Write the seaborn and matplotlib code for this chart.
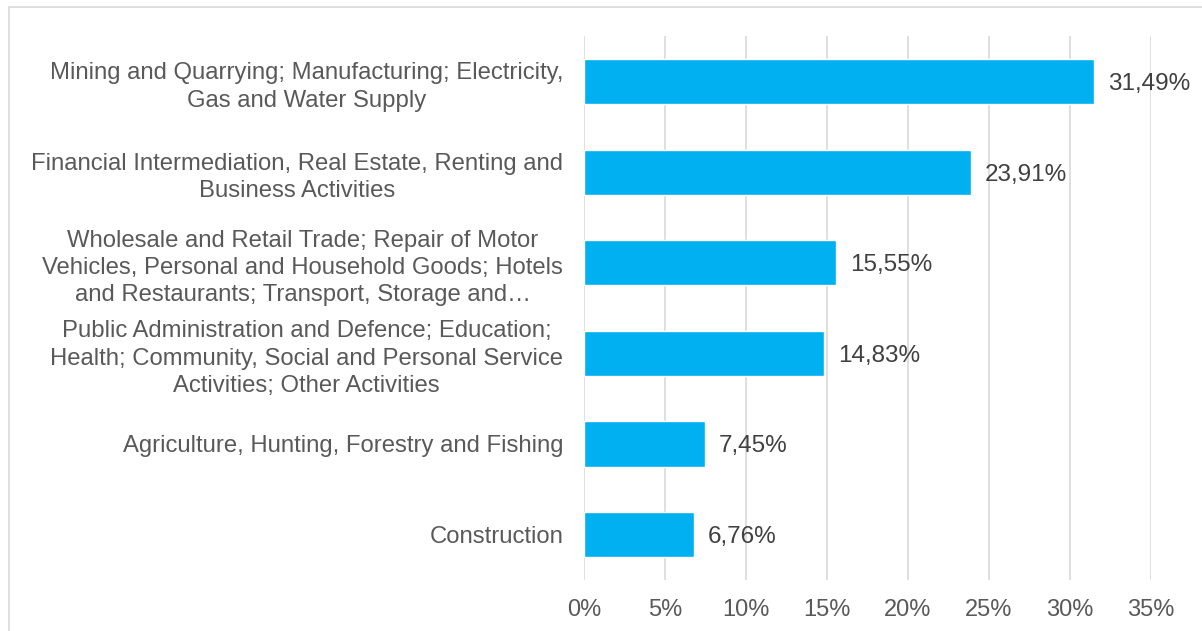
import matplotlib
matplotlib.use("Agg")
import matplotlib.pyplot as plt
import seaborn as sns
import pandas as pd
from matplotlib.patches import Rectangle

categories = [
    "Mining and Quarrying; Manufacturing; Electricity,\nGas and Water Supply",
    "Financial Intermediation, Real Estate, Renting and\nBusiness Activities",
    "Wholesale and Retail Trade; Repair of Motor\nVehicles, Personal and Household Goods; Hotels\nand Restaurants; Transport, Storage and…",
    "Public Administration and Defence; Education;\nHealth; Community, Social and Personal Service\nActivities; Other Activities",
    "Agriculture, Hunting, Forestry and Fishing",
    "Construction",
]
values = [31.49, 23.91, 15.55, 14.83, 7.45, 6.76]
xticks = [0, 5, 10, 15, 20, 25, 30, 35]

sns.set_theme(style="white")
plt.rcParams['font.family'] = ['Liberation Sans', 'DejaVu Sans']

df = pd.DataFrame({"cat": categories, "val": values})

fig = plt.figure(figsize=(12.02, 6.31), dpi=100)
ax = fig.add_axes([0.4859, 0.0811, 0.9576 - 0.4859, 0.9423 - 0.0811])

sns.barplot(data=df, x="val", y="cat", orient="h", color="#00B0F0",
            saturation=1, width=0.5, ax=ax)

ax.set_xlim(0, 35)
ax.set_xticks(xticks)
ax.set_xticklabels([f"{t}%" for t in xticks], color="#595959", fontsize=17)
ax.set_ylabel("")
ax.set_xlabel("")
for lab in ax.get_yticklabels():
    lab.set_multialignment("center")
    lab.set_color("#595959")
    lab.set_fontsize(17.2)
    lab.set_linespacing(1.32)
ax.tick_params(axis="both", length=0)
ax.tick_params(axis="y", pad=15)
ax.tick_params(axis="x", pad=14)
for s in ax.spines.values():
    s.set_visible(False)
ax.grid(axis="x", color="#d9d9d9", linewidth=1.2)
ax.set_axisbelow(True)

for i, v in enumerate(values):
    ax.text(v + 0.85, i, f"{v:.2f}%".replace(".", ","), va="center_baseline",
            ha="left", color="#404040", fontsize=17.5)

fig.patches.append(Rectangle((9 / 1202, -0.1), 1.2, 1 - 7 / 631 + 0.1,
                             transform=fig.transFigure, fill=False,
                             edgecolor="#d9d9d9", linewidth=1.2))

fig.savefig("out.png", dpi=100)
